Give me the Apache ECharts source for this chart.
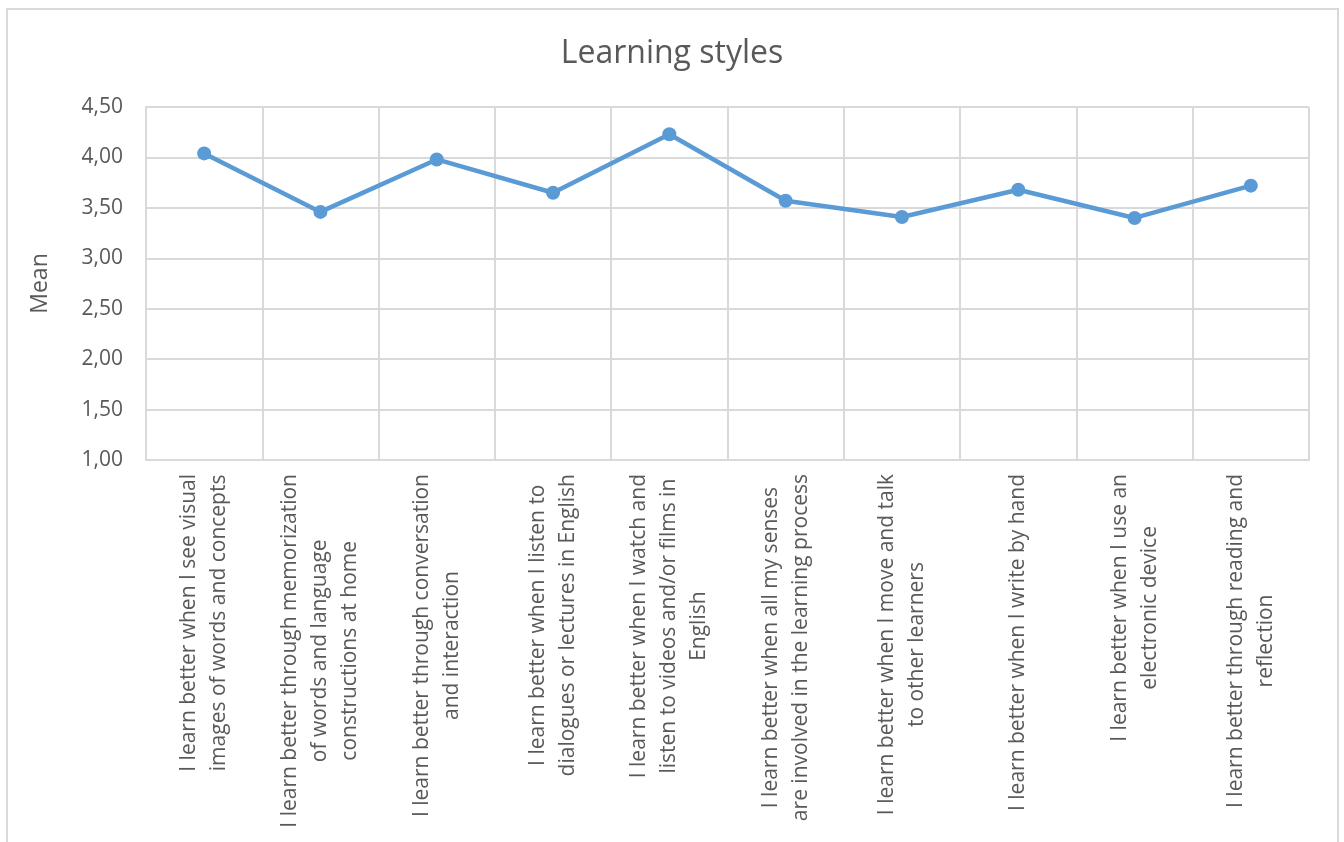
<!DOCTYPE html>
<html>
<head>
<meta charset="utf-8">
<script src="https://cdn.jsdelivr.net/npm/echarts@6/dist/echarts.min.js"></script>
<style>
html, body { margin: 0; padding: 0; background: #fff; overflow: hidden; }
#chart { width: 1344px; height: 842px; }
.frame { position: absolute; left: 6px; top: 8px; width: 1329px; height: 900px; border: 2px solid #d9d9d9; pointer-events: none; }
</style>
</head>
<body>
<div id="chart"></div>
<div class="frame"></div>
<script>
// categories (line breaks as in the original chart)
var categories = [
	'I learn better when I see visual\nimages of words and concepts',
	'I learn better through memorization\nof words and language\nconstructions at home',
	'I learn better through conversation\nand interaction',
	'I learn better when I listen to\ndialogues or lectures in English',
	'I learn better when I watch and\nlisten to videos and/or films in\nEnglish',
	'I learn better when all my senses\nare involved in the learning process',
	'I learn better when I move and talk\nto other learners',
	'I learn better when I write by hand',
	'I learn better when I use an\nelectronic device',
	'I learn better through reading and\nreflection'
];
var meanValues = [4.04, 3.46, 3.98, 3.65, 4.23, 3.57, 3.41, 3.68, 3.40, 3.72];
var yTicks = [1, 1.5, 2, 2.5, 3, 3.5, 4, 4.5];

var textColor = '#595959';
var gridColor = '#d9d9d9';
var font = 'Open Sans';

var chart = echarts.init(document.getElementById('chart'));
var option = {
	animation: false,
	title: {
		text: 'Learning styles',
		left: 'center',
		top: 33,
		textStyle: { fontFamily: font, fontSize: 32, fontWeight: 'normal', color: textColor }
	},
	grid: { left: 146, right: 35, top: 107, bottom: 382 },
	xAxis: {
		type: 'category',
		data: categories,
		boundaryGap: true,
		axisLine: { lineStyle: { color: gridColor, width: 2 } },
		axisTick: { show: false },
		splitLine: { show: true, lineStyle: { color: gridColor, width: 2 } },
		axisLabel: {
			interval: 0,
			rotate: 90,
			margin: 14,
			color: textColor,
			fontFamily: font,
			fontSize: 21,
			lineHeight: 30,
			formatter: function (v) {
				return v.split('\n').map(function (s) { return '{c|' + s + '}'; }).join('\n');
			},
			rich: {
				c: { align: 'center', fontFamily: font, fontSize: 21, lineHeight: 30, color: textColor }
			}
		}
	},
	yAxis: {
		type: 'value',
		name: 'Mean',
		nameLocation: 'middle',
		nameGap: 94,
		nameRotate: 90,
		nameTextStyle: { fontFamily: font, fontSize: 23, color: textColor },
		min: yTicks[0],
		max: yTicks[yTicks.length - 1],
		interval: 0.5,
		axisLine: { show: true, lineStyle: { color: gridColor, width: 2 } },
		axisTick: { show: false },
		splitLine: { lineStyle: { color: gridColor, width: 2 } },
		axisLabel: {
			margin: 23,
			color: textColor,
			fontFamily: font,
			fontSize: 21,
			formatter: function (v) { return v.toFixed(2).replace('.', ','); }
		}
	},
	series: [{
		type: 'line',
		data: meanValues,
		symbol: 'circle',
		symbolSize: 14,
		lineStyle: { color: '#5b9bd5', width: 4.5 },
		itemStyle: { color: '#5b9bd5' }
	}]
};
chart.setOption(option);
</script>
</body>
</html>
